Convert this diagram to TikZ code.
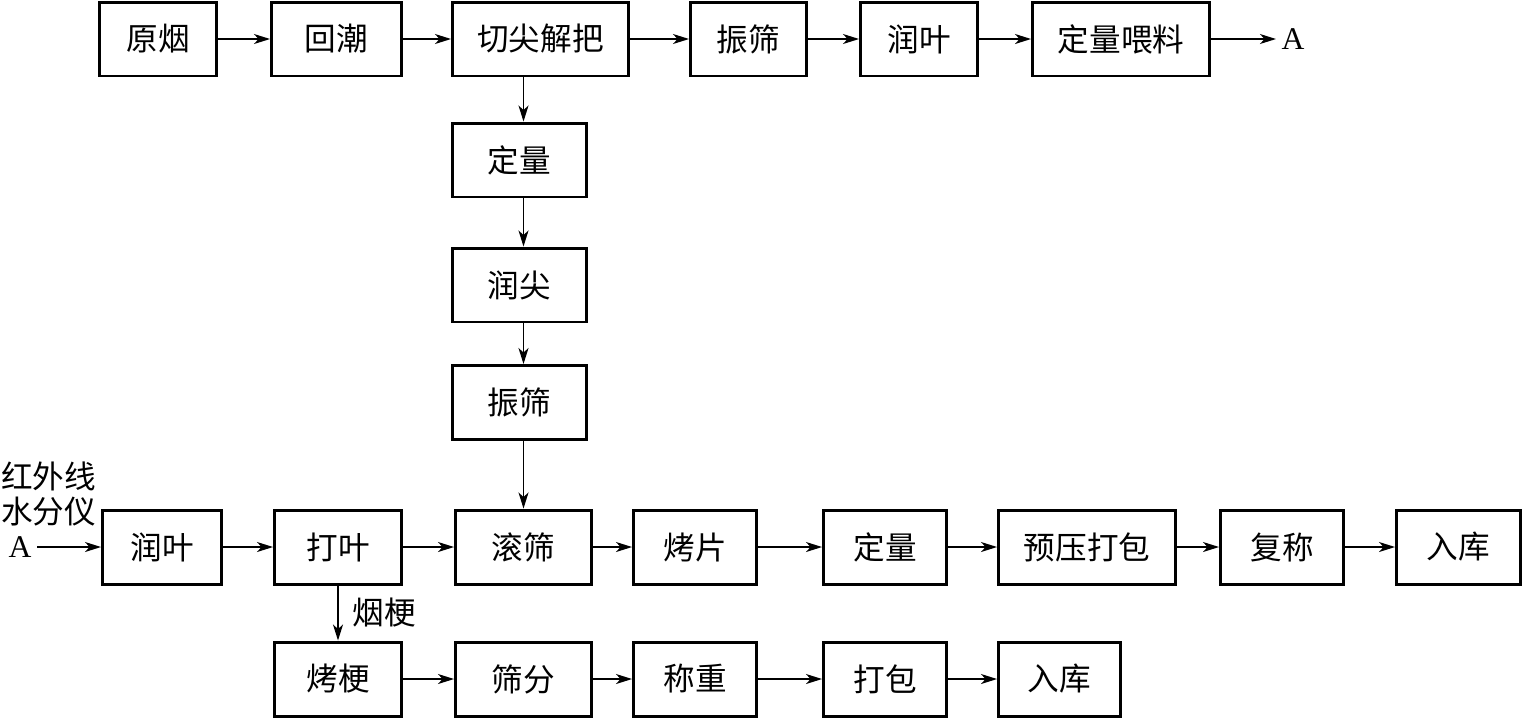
\documentclass[tikz,border=0pt]{standalone}
\usepackage{fontspec}
\setmainfont{Liberation Serif}
\newfontfamily\cjk{Noto Sans CJK SC}
\usetikzlibrary{arrows.meta}
\begin{document}
\begin{tikzpicture}[x=0.02cm,y=-0.02cm,
  box/.style={draw,line width=1.7pt,minimum height=1.48cm,inner sep=0pt,font=\cjk\fontsize{18}{20}\selectfont},
  flow/.style={line width=0.8pt,-{Stealth[length=3.2mm,width=2mm,inset=0.9mm]}},
  lbl/.style={font=\cjk\fontsize{18}{19.5}\selectfont,inner sep=0pt},
  letter/.style={font=\fontsize{18}{20}\selectfont,inner sep=3pt}]
\useasboundingbox (0,0) rectangle (1523,718);
% top row
\node[box,minimum width=2.34cm] (yy)   at (158,39) {原烟};
\node[box,minimum width=2.60cm] (hc)   at (336.5,39) {回潮};
\node[box,minimum width=3.52cm] (qj)   at (540.5,39) {切尖解把};
\node[box,minimum width=2.32cm] (zs1)  at (748.5,39) {振筛};
\node[box,minimum width=2.34cm] (ry1)  at (919,39) {润叶};
\node[box,minimum width=3.54cm] (dlwl) at (1121,39) {定量喂料};
\node[letter] (A1) at (1293,39) {A};
% column
\node[box,minimum width=2.68cm] (dl1) at (519.5,160) {定量};
\node[box,minimum width=2.68cm] (rj)  at (519.5,285) {润尖};
\node[box,minimum width=2.68cm] (zs2) at (519.5,402.5) {振筛};
% middle row
\node[letter] (A2) at (20,547) {A};
\node[lbl,align=left,anchor=west] (ir) at (1,494) {红外线\\水分仪};
\node[box,minimum width=2.38cm] (ry2) at (162,547) {润叶};
\node[box,minimum width=2.54cm] (dy)  at (338,547) {打叶};
\node[box,minimum width=2.72cm] (gs)  at (523.5,547) {滚筛};
\node[box,minimum width=2.46cm] (kp)  at (695,547) {烤片};
\node[box,minimum width=2.46cm] (dl2) at (885,547) {定量};
\node[box,minimum width=3.54cm] (yy2) at (1087,547) {预压打包};
\node[box,minimum width=2.46cm] (fc)  at (1282,547) {复称};
\node[box,minimum width=2.48cm] (rk1) at (1458.5,547) {入库};
% bottom row
\node[box,minimum width=2.54cm] (kg)  at (338,679) {烤梗};
\node[box,minimum width=2.72cm] (sf)  at (523.5,679) {筛分};
\node[box,minimum width=2.46cm] (cz)  at (695,679) {称重};
\node[box,minimum width=2.46cm] (db)  at (885,679) {打包};
\node[box,minimum width=2.44cm] (rk2) at (1059.5,679) {入库};
\node[lbl] (yg) at (384,613) {烟梗};
% connectors top
\draw[flow] (yy) -- (hc);
\draw[flow] (hc) -- (qj);
\draw[flow] (qj) -- (zs1);
\draw[flow] (zs1) -- (ry1);
\draw[flow] (ry1) -- (dlwl);
\draw[flow] (dlwl) -- (A1);
% column
\draw[flow] (qj.south -| gs.north) -- (gs.north |- dl1.north);
\draw[flow] (dl1.south -| gs.north) -- (gs.north |- rj.north);
\draw[flow] (rj.south -| gs.north) -- (gs.north |- zs2.north);
\draw[flow] (zs2.south -| gs.north) -- (gs.north);
% middle
\draw[flow] (A2) -- (ry2);
\draw[flow] (ry2) -- (dy);
\draw[flow] (dy) -- (gs);
\draw[flow] (gs) -- (kp);
\draw[flow] (kp) -- (dl2);
\draw[flow] (dl2) -- (yy2);
\draw[flow] (yy2) -- (fc);
\draw[flow] (fc) -- (rk1);
% bottom
\draw[flow] (dy) -- (kg);
\draw[flow] (kg) -- (sf);
\draw[flow] (sf) -- (cz);
\draw[flow] (cz) -- (db);
\draw[flow] (db) -- (rk2);
\end{tikzpicture}
\end{document}
